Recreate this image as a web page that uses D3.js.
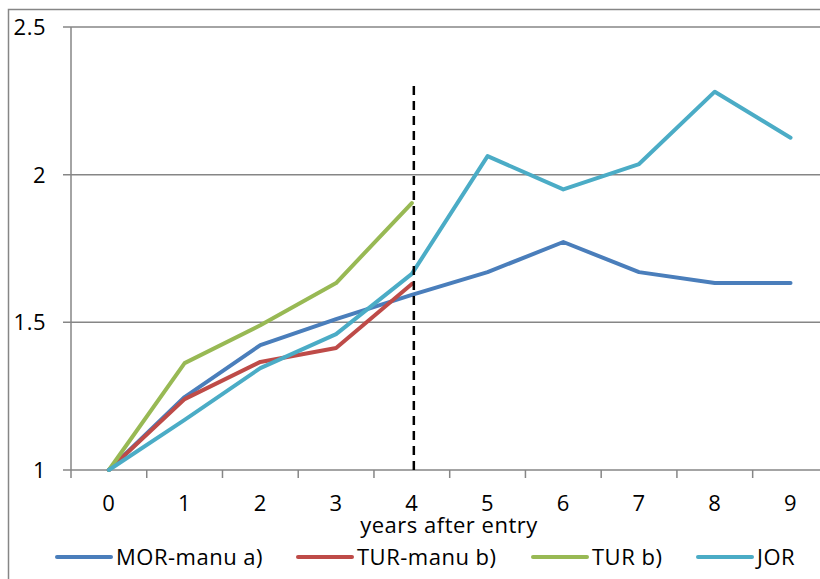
<!DOCTYPE html>
<head>
  <meta charset="utf-8">
  <script src="https://d3js.org/d3.v7.min.js"></script>
  <style>
    body{ margin: 0; }
    text{
      font-family: "Open Sans", sans-serif;
      font-size: 22px;
      letter-spacing: 0.5px;
      fill: #000000;
    }
    .grid line{ stroke: #868686; stroke-width: 1.5; }
  </style>
</head>
<body>
  <script>
    var width = 820, height = 579;

    // data
    var years = [0, 1, 2, 3, 4, 5, 6, 7, 8, 9];
    var morManu = [1, 1.247, 1.423, 1.511, 1.593, 1.67, 1.772, 1.67, 1.633, 1.633];
    var turManu = [1, 1.24, 1.366, 1.413, 1.63];
    var tur = [1, 1.362, 1.49, 1.633, 1.904];
    var jor = [1, 1.17, 1.345, 1.46, 1.664, 2.063, 1.95, 2.036, 2.281, 2.125];
    var yTicks = [1, 1.5, 2, 2.5];
    var seriesNames = ['MOR-manu a)', 'TUR-manu b)', 'TUR b)', 'JOR'];
    var seriesColours = ['#4a7ebb', '#be4b48', '#98b954', '#4bacc6'];
    var entryYear = 4, entryTop = 2.3;

    var series = [morManu, turManu, tur, jor].map((v, i) => ({
      name: seriesNames[i],
      colour: seriesColours[i],
      values: v.map((d, j) => ({year: years[j], value: d}))
    }));

    var svg = d3.select('body').append('svg')
      .attr('width', width)
      .attr('height', height);

    // outer chart frame
    svg.append('rect')
      .attr('x', 8.5).attr('y', 9.5)
      .attr('width', 900).attr('height', 700)
      .attr('fill', 'none')
      .attr('stroke', '#868686')
      .attr('stroke-width', 1.5);

    var margin = {top: 27, left: 71, bottom: 470};
    var step = 75.74;

    var x = d3.scaleBand()
      .domain(years)
      .range([margin.left, margin.left + step * years.length]);

    var y = d3.scaleLinear()
      .domain([1, 2.5])
      .range([margin.bottom, margin.top]);

    // horizontal gridlines + y ticks
    var grid = svg.append('g').attr('class', 'grid');
    grid.selectAll('line.h')
      .data(yTicks.filter(d => d > 1))
      .enter().append('line')
      .attr('x1', margin.left - 8)
      .attr('x2', x.range()[1])
      .attr('y1', d => y(d))
      .attr('y2', d => y(d));

    // y axis line
    grid.append('line')
      .attr('x1', margin.left).attr('x2', margin.left)
      .attr('y1', y(2.5)).attr('y2', y(1));
    // x axis line
    grid.append('line')
      .attr('x1', margin.left - 8).attr('x2', x.range()[1])
      .attr('y1', y(1)).attr('y2', y(1));

    // x ticks at band edges
    grid.selectAll('line.xt')
      .data(years.concat([years.length]))
      .enter().append('line')
      .attr('x1', (d, i) => margin.left + i * x.step())
      .attr('x2', (d, i) => margin.left + i * x.step())
      .attr('y1', y(1))
      .attr('y2', y(1) + 8);

    svg.selectAll('text.ylab')
      .data(yTicks)
      .enter().append('text')
      .attr('class', 'ylab')
      .attr('x', 46)
      .attr('y', d => y(d) + 8)
      .style('text-anchor', 'end')
      .text(d => d);

    svg.selectAll('text.xlab')
      .data(years)
      .enter().append('text')
      .attr('class', 'xlab')
      .attr('x', d => x(d) + x.bandwidth() / 2)
      .attr('y', 511)
      .style('text-anchor', 'middle')
      .text(d => d);

    svg.append('text')
      .attr('x', 449)
      .attr('y', 533)
      .style('text-anchor', 'middle')
      .text('years after entry');

    var line = d3.line()
      .x(d => x(d.year) + x.bandwidth() / 2)
      .y(d => y(d.value));

    svg.selectAll('path.series')
      .data(series)
      .enter().append('path')
      .attr('class', 'series')
      .attr('d', d => line(d.values))
      .attr('fill', 'none')
      .attr('stroke', d => d.colour)
      .attr('stroke-width', 4)
      .attr('stroke-linejoin', 'round')
      .attr('stroke-linecap', 'round');

    // entry marker
    svg.append('line')
      .attr('x1', x(entryYear) + x.bandwidth() / 2 + 2)
      .attr('x2', x(entryYear) + x.bandwidth() / 2 + 2)
      .attr('y1', y(entryTop))
      .attr('y2', y(1) + 6)
      .attr('stroke', '#000')
      .attr('stroke-width', 2.5)
      .attr('stroke-dasharray', '9,6');

    // legend
    var legendX = [57, 298, 533, 698];
    var legend = svg.selectAll('g.legend')
      .data(series)
      .enter().append('g')
      .attr('class', 'legend')
      .attr('transform', (d, i) => `translate(${legendX[i]}, 557)`);
    legend.append('line')
      .attr('x1', 0).attr('x2', 54)
      .attr('stroke', d => d.colour)
      .attr('stroke-width', 4)
      .attr('stroke-linecap', 'round');
    legend.append('text')
      .attr('x', 59)
      .attr('y', 8)
      .text(d => d.name);
  </script>
</body>
